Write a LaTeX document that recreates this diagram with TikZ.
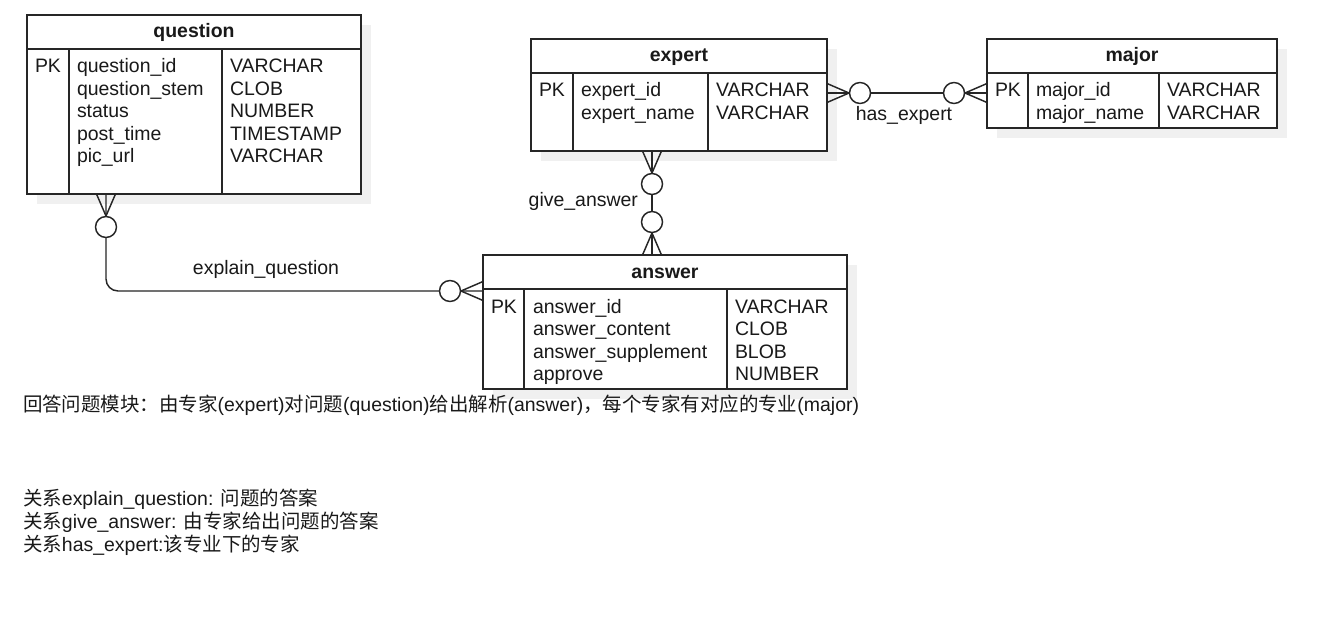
\documentclass[tikz,border=0pt]{standalone}
\usepackage{fontspec}
\setmainfont{Liberation Sans}
\newfontfamily\cjk{Noto Sans CJK SC}
\usetikzlibrary{calc}
\newcommand\crowfoot[2]{\begin{scope}[shift={(#1)}, rotate=#2]
  \draw[conn] (0,-9.5) -- (22,0) -- (0,9.5);
  \draw[conn, fill=white] (33,0) circle[radius=7.875pt];
\end{scope}}
\begin{document}
\begin{tikzpicture}[x=0.75pt,y=-0.75pt,
  every node/.style={inner sep=0pt, outer sep=0pt, font=\fontsize{14.6}{17.5}\selectfont, text=black!90},
  tbl/.style={draw=black!85, line width=1.4pt, rectangle},
  shadowbox/.style={fill=black!6},
  sep/.style={draw=black!85, line width=1.1pt},
  conn/.style={draw=black!85, line width=1.1pt},
  fld/.style={anchor=base west},
  hdr/.style={anchor=base, font=\fontsize{14.6}{17.5}\selectfont\bfseries},
  lbl/.style={anchor=base},
]
\fill[white] (0,0) rectangle (1335,624);
\useasboundingbox (0,0) rectangle (1335,624);

% shadows
\fill[shadowbox] (37,25) rectangle (371,204);
\fill[shadowbox] (541,49) rectangle (837,161);
\fill[shadowbox] (997,49) rectangle (1287,138);
\fill[shadowbox] (493,265) rectangle (857,399);

% question
\node[tbl, fill=white, minimum width=250.5pt, minimum height=134.25pt] (question) at (194,104.5) {};
\draw[sep] ($(question.north west)+(0,34)$) -- ($(question.north east)+(0,34)$);
\draw[sep] ($(question.north west)+(42,34)$) -- ($(question.south west)+(42,0)$);
\draw[sep] ($(question.north west)+(195,34)$) -- ($(question.south west)+(195,0)$);
\node[tbl, fill=none, minimum width=250.5pt, minimum height=134.25pt] (questionb) at (194,104.5) {};
\node[hdr] (qh) at (194,38) {question};
\node[fld] (qpk) at (35,73) {PK};
\node[fld] (qf1) at (77,73) {question\_id};
\node[fld] (qf2) at (77,95.5) {question\_stem};
\node[fld] (qf3) at (77,118) {status};
\node[fld] (qf4) at (77,140.5) {post\_time};
\node[fld] (qf5) at (77,163) {pic\_url};
\node[fld] (qt1) at (230,73) {VARCHAR};
\node[fld] (qt2) at (230,95.5) {CLOB};
\node[fld] (qt3) at (230,118) {NUMBER};
\node[fld] (qt4) at (230,140.5) {TIMESTAMP};
\node[fld] (qt5) at (230,163) {VARCHAR};

% expert
\node[tbl, fill=white, minimum width=222pt, minimum height=84pt] (expert) at (679,95) {};
\draw[sep] ($(expert.north west)+(0,34)$) -- ($(expert.north east)+(0,34)$);
\draw[sep] ($(expert.north west)+(42,34)$) -- ($(expert.south west)+(42,0)$);
\draw[sep] ($(expert.north west)+(177,34)$) -- ($(expert.south west)+(177,0)$);
\node[tbl, fill=none, minimum width=222pt, minimum height=84pt] (expertb) at (679,95) {};
\node[hdr] (eh) at (679,62) {expert};
\node[fld] (epk) at (539,97) {PK};
\node[fld] (ef1) at (581,97) {expert\_id};
\node[fld] (ef2) at (581,119.5) {expert\_name};
\node[fld] (et1) at (716,97) {VARCHAR};
\node[fld] (et2) at (716,119.5) {VARCHAR};

% major
\node[tbl, fill=white, minimum width=217.5pt, minimum height=66.75pt] (major) at (1132,83.5) {};
\draw[sep] ($(major.north west)+(0,34)$) -- ($(major.north east)+(0,34)$);
\draw[sep] ($(major.north west)+(41,34)$) -- ($(major.south west)+(41,0)$);
\draw[sep] ($(major.north west)+(172,34)$) -- ($(major.south west)+(172,0)$);
\node[tbl, fill=none, minimum width=217.5pt, minimum height=66.75pt] (majorb) at (1132,83.5) {};
\node[hdr] (mh) at (1132,62) {major};
\node[fld] (mpk) at (995,97) {PK};
\node[fld] (mf1) at (1036,97) {major\_id};
\node[fld] (mf2) at (1036,119.5) {major\_name};
\node[fld] (mt1) at (1167,97) {VARCHAR};
\node[fld] (mt2) at (1167,119.5) {VARCHAR};

% answer
\node[tbl, fill=white, minimum width=273pt, minimum height=100.5pt] (answer) at (665,322) {};
\draw[sep] ($(answer.north west)+(0,34)$) -- ($(answer.north east)+(0,34)$);
\draw[sep] ($(answer.north west)+(41,34)$) -- ($(answer.south west)+(41,0)$);
\draw[sep] ($(answer.north west)+(244,34)$) -- ($(answer.south west)+(244,0)$);
\node[tbl, fill=none, minimum width=273pt, minimum height=100.5pt] (answerb) at (665,322) {};
\node[hdr] (ah) at (665,278) {answer};
\node[fld] (apk) at (491,313) {PK};
\node[fld] (af1) at (533,313) {answer\_id};
\node[fld] (af2) at (533,335.5) {answer\_content};
\node[fld] (af3) at (533,358) {answer\_supplement};
\node[fld] (af4) at (533,380.5) {approve};
\node[fld] (at1) at (735,313) {VARCHAR};
\node[fld] (at2) at (735,335.5) {CLOB};
\node[fld] (at3) at (735,358) {BLOB};
\node[fld] (at4) at (735,380.5) {NUMBER};

% connectors
\coordinate (qb) at ($(question.south west)+(79,0)$);
\coordinate (al) at ($(answer.west)+(0,-31)$);
\coordinate (eb) at ($(expert.south west)+(121,0)$);
\coordinate (at) at ($(answer.north west)+(169,0)$);
\coordinate (er) at ($(expert.east)+(0,-2)$);
\coordinate (ml) at ($(major.west)+(0,9.5)$);

\draw[conn, rounded corners=9pt] (qb) |- (al);
\draw[conn] (eb) -- (at);
\draw[conn] (er) -- (ml);

\crowfoot{qb}{-90}
\crowfoot{al}{180}
\crowfoot{eb}{-90}
\crowfoot{at}{90}
\crowfoot{er}{0}
\crowfoot{ml}{180}

\node[lbl] (lexplain) at (266,274) {explain\_question};
\node[anchor=base east] (lgive) at (638,206) {give\_answer};
\node[lbl] (lhas) at (904,121) {has\_expert};

% notes
\node[fld] (note1) at (23,411) {{\cjk 回答问题模块：由专家}(expert){\cjk 对问题}(question){\cjk 给出解析}(answer){\cjk ，每个专家有对应的专业}(major)};
\node[fld] (note2) at (23,505) {{\cjk 关系}explain\_question: {\cjk 问题的答案}};
\node[fld] (note3) at (23,528) {{\cjk 关系}give\_answer: {\cjk 由专家给出问题的答案}};
\node[fld] (note4) at (23,551) {{\cjk 关系}has\_expert:{\cjk 该专业下的专家}};
\end{tikzpicture}
\end{document}
